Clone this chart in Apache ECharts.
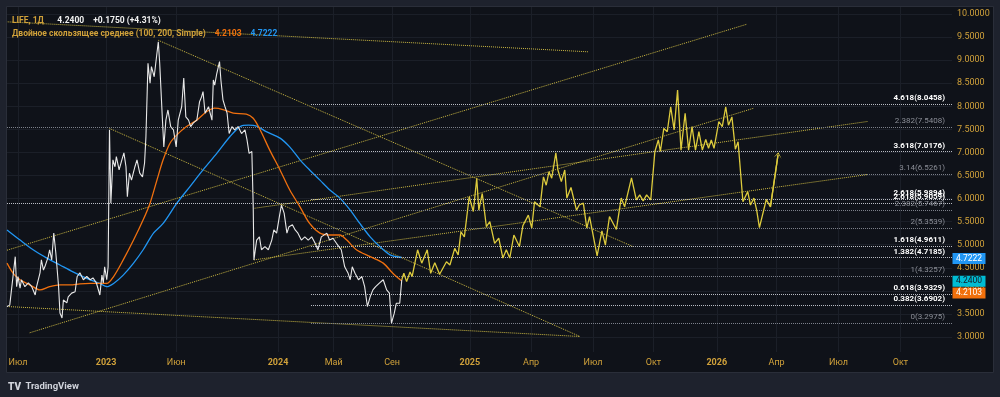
<!DOCTYPE html>
<html><head><meta charset="utf-8">
<script src="https://cdn.jsdelivr.net/npm/echarts@6/dist/echarts.min.js"></script>
<style>html,body{margin:0;padding:0;background:#1e222d;}#c{width:1000px;height:397px;}</style>
</head><body><div id="c"></div>
<script>
// ---------- DATA (x = bar index on the time scale, y = price) ----------
const timeTickBars = [16, 144, 246, 394, 475, 560, 673, 762, 852, 940, 1032, 1119, 1209, 1299];
const timeTickLabels = ['Июл', '2023', 'Июн', '2024', 'Май', 'Сен', '2025', 'Апр', 'Июл', 'Окт', '2026', 'Апр', 'Июл', 'Окт'];
const priceTicks = [3, 3.5, 4, 4.5, 5, 5.5, 6, 6.5, 7, 7.5, 8, 8.5, 9, 9.5, 10];

const price = [[0,3.66],[4,3.69],[12,4.74],[14,4.09],[16,4.31],[19,4.06],[21,4.24],[26,4.09],[31,4.17],[36,4.09],[41,3.91],[43,4.09],[48,4.39],[50,4.67],[53,4.45],[55,4.52],[60,4.74],[62,4.89],[65,4.67],[68,5.25],[71,4.82],[75,4.09],[77,3.52],[80,3.41],[82,3.80],[87,3.74],[89,3.87],[94,3.95],[99,3.98],[102,4.31],[106,4.39],[111,4.24],[116,4.31],[121,4.24],[125,4.28],[130,4.17],[135,3.91],[138,4.34],[140,4.17],[142,4.52],[145,4.24],[147,4.52],[149,7.49],[151,5.90],[154,6.84],[157,6.69],[159,6.91],[163,6.62],[167,6.84],[170,6.99],[173,6.69],[175,6.04],[178,6.55],[181,6.40],[186,6.69],[189,6.84],[193,6.55],[197,6.47],[200,6.77],[202,7.34],[205,8.93],[208,8.50],[210,8.86],[214,8.64],[218,9.15],[220,9.40],[222,8.94],[226,7.70],[228,7.12],[231,7.70],[234,7.92],[238,7.56],[242,7.49],[246,7.12],[249,7.70],[254,7.99],[257,8.61],[260,7.77],[264,7.70],[267,7.56],[271,7.64],[276,7.70],[280,8.10],[283,8.21],[285,8.32],[288,7.85],[293,7.99],[298,7.70],[300,8.57],[302,8.46],[305,8.71],[309,8.97],[311,8.57],[314,8.14],[317,7.99],[320,7.85],[323,7.41],[327,7.56],[331,7.49],[336,7.56],[341,7.41],[346,7.49],[349,7.27],[352,6.98],[356,7.02],[358,5.82],[359,4.67],[363,5.10],[367,5.17],[370,4.89],[375,4.96],[380,4.89],[385,5.10],[388,5.32],[392,5.25],[396,5.61],[399,5.86],[403,5.68],[407,5.25],[410,5.39],[415,5.43],[419,5.32],[423,5.25],[428,5.10],[433,5.17],[438,5.10],[443,5.17],[448,5.03],[452,4.89],[457,5.17],[465,5.25],[469,5.10],[474,5.14],[479,5.03],[486,4.89],[491,4.52],[496,4.38],[499,4.24],[502,4.52],[506,4.38],[511,4.24],[516,4.31],[520,4.09],[524,3.66],[528,3.87],[532,4.02],[536,4.09],[541,4.16],[547,4.24],[552,4.02],[556,3.95],[559,3.30],[563,3.51],[566,3.73],[571,3.73],[574,4.24]];

const ma100 = [[0,4.60],[9,4.38],[19,4.24],[33,4.13],[48,4.02],[62,4.09],[77,4.13],[92,4.13],[106,4.15],[121,4.16],[145,4.16],[155,4.31],[169,4.67],[184,5.10],[198,5.54],[208,5.90],[218,6.40],[227,6.84],[237,7.20],[247,7.38],[261,7.56],[276,7.70],[290,7.88],[302,7.96],[314,7.93],[329,7.85],[348,7.83],[358,7.74],[368,7.49],[382,7.05],[397,6.62],[411,6.19],[426,5.82],[440,5.46],[455,5.25],[469,5.21],[484,5.21],[494,5.10],[508,4.89],[528,4.74],[547,4.60],[561,4.38],[574,4.2103]];

const ma200 = [[0,5.32],[19,5.10],[38,4.89],[58,4.71],[77,4.56],[96,4.41],[116,4.27],[135,4.16],[145,4.09],[155,4.16],[169,4.34],[184,4.60],[198,4.89],[213,5.25],[227,5.46],[247,5.90],[266,6.26],[285,6.62],[305,6.98],[324,7.34],[339,7.56],[351,7.59],[363,7.57],[377,7.45],[397,7.31],[411,7.12],[426,6.84],[440,6.62],[455,6.40],[469,6.19],[484,6.01],[499,5.75],[513,5.46],[528,5.17],[542,4.96],[557,4.78],[574,4.7222]];

const forecastPath = [[574,4.24],[577,4.38],[581,4.20],[586,4.41],[589,4.31],[597,4.89],[603,4.60],[611,4.89],[616,4.38],[622,4.61],[629,4.36],[639,4.63],[644,4.56],[651,4.92],[656,4.78],[660,5.28],[665,5.17],[672,6.04],[678,5.72],[683,6.44],[686,5.75],[691,6.11],[697,5.39],[702,5.50],[709,5.03],[715,5.14],[721,4.71],[726,4.89],[731,4.71],[737,5.21],[745,4.96],[750,5.41],[758,5.64],[763,5.36],[767,5.93],[775,5.82],[780,6.47],[784,6.29],[788,6.58],[792,6.44],[798,6.99],[801,6.62],[806,6.37],[811,6.62],[814,6.01],[820,6.24],[828,5.75],[832,5.86],[838,5.90],[843,5.36],[847,5.61],[858,4.76],[865,5.30],[870,4.99],[876,5.61],[886,5.33],[893,6.01],[898,5.82],[908,6.45],[915,5.97],[920,6.08],[925,5.95],[930,6.08],[936,5.97],[942,7.02],[947,7.27],[950,7.02],[955,7.52],[960,7.45],[965,7.99],[970,7.49],[975,8.35],[980,7.05],[986,7.85],[991,7.05],[996,7.56],[1001,7.05],[1006,7.45],[1011,7.05],[1016,7.28],[1020,7.09],[1024,7.27],[1028,7.09],[1035,7.67],[1040,7.56],[1045,7.99],[1049,7.59],[1054,7.77],[1059,7.07],[1063,7.23],[1070,5.93],[1077,6.15],[1081,5.86],[1086,6.01],[1090,5.75],[1094,5.37],[1104,5.98],[1110,5.82],[1121,6.94]];

// trend lines: [startBar, startPrice, endBar, endPrice]
const trendLines = [
  [1, 9.83, 846, 9.18],
  [220, 9.43, 910, 4.96],
  [149, 7.52, 833, 3.01],
  [0, 3.66, 833, 3.01],
  [0, 4.88, 1076, 9.78],
  [33, 3.09, 1086, 7.96],
  [359, 4.67, 1251, 6.52],
  [360, 5.79, 1251, 7.67]
];

const fibValue   = [8.0458, 7.5408, 7.0176, 6.5261, 5.9894, 5.9059, 5.7467, 5.3539, 4.9611, 4.7185, 4.3257, 3.9329, 3.6902, 3.2975];
const fibRatio   = ['4.618', '2.382', '3.618', '3.14', '2.618', '2.618', '2.382', '2', '1.618', '1.382', '1', '0.618', '0.382', '0'];
const fibFromBar = [442, 0, 442, 442, 442, 0, 442, 442, 442, 442, 442, 442, 442, 442];

// ---------- STYLE ----------
const X_MAX = 1374, Y_MIN = 2.674, Y_MAX = 10.152;
const GOLD = '#d0a13a';
const FONT = 'Roboto';
const BRIGHT_RATIOS = ['4.618', '3.618', '2.618', '1.618', '1.382', '0.618', '0.382'];
const GRID_C = '#1b1f28';

const chart = echarts.init(document.getElementById('c'));

const series = [];
trendLines.forEach(t => series.push({
  type: 'line', data: [[t[0], t[1]], [t[2], t[3]]], symbol: 'none', silent: true, z: 2,
  lineStyle: { color: '#cbb842', width: 1, type: 'dotted' }
}));

series.push({
  type: 'line', data: [], silent: true, z: 3,
  markLine: {
    symbol: 'none', silent: true, animation: false,
    data: fibValue.map((v, i) => {
      const bright = BRIGHT_RATIOS.includes(fibRatio[i]);
      return [{
        coord: [fibFromBar[i], v],
        lineStyle: { color: bright ? '#b9bcc4' : '#7d818b', width: 1, type: 'dotted' },
        label: {
          show: true, position: 'insideEndTop', distance: [7, 2],
          formatter: fibRatio[i] + '(' + v.toFixed(4) + ')',
          color: bright ? '#ffffff' : '#8b8e97', fontSize: 8, fontFamily: FONT,
          fontWeight: bright ? 'bold' : 'normal'
        }
      }, { coord: [X_MAX, v] }];
    })
  }
});

function tag(v, bg, fg, dy) {
  return {
    data: [{ coord: [X_MAX, v] }], symbol: 'rect', symbolSize: [33, 11], symbolOffset: [17, dy],
    silent: true, animation: false, itemStyle: { color: bg },
    label: { show: true, position: 'inside', formatter: v.toFixed(4), color: fg, fontSize: 8.5, fontFamily: FONT }
  };
}

series.push({
  type: 'line', data: ma200, symbol: 'none', smooth: 0.3, clip: false, z: 4,
  lineStyle: { color: '#2196f3', width: 1.3 },
  markPoint: tag(ma200[ma200.length - 1][1], '#2196f3', '#ffffff', 1)
});
series.push({
  type: 'line', data: ma100, symbol: 'none', smooth: 0.3, clip: false, z: 5,
  lineStyle: { color: '#f0700f', width: 1.3 },
  markPoint: tag(ma100[ma100.length - 1][1], '#f2700c', '#ffffff', 12)
});
series.push({
  type: 'line', data: price, symbol: 'none', clip: false, z: 6,
  lineStyle: { color: '#e8e8e8', width: 1.1 },
  markPoint: tag(price[price.length - 1][1], '#00bcd4', '#131722', 1.5)
});
const n = forecastPath.length;
series.push({
  type: 'line', data: forecastPath, symbol: 'none', z: 6,
  lineStyle: { color: '#ddcb3d', width: 1.3 },
  markLine: {
    silent: true, animation: false, symbol: ['none', 'path://M0,10 L5,0 L10,10 L5,3 Z'], symbolSize: [8, 6],
    lineStyle: { color: '#ddcb3d', width: 1.3, type: 'solid' }, label: { show: false },
    data: [[{ coord: forecastPath[n - 2] }, { coord: forecastPath[n - 1] }]]
  }
});

chart.setOption({
  animation: false,
  backgroundColor: '#1e222d',
  textStyle: { fontFamily: FONT },
  graphic: [{
    type: 'rect', z: -10, silent: true,
    shape: { x: 6.5, y: 6.5, width: 987, height: 366 },
    style: { fill: '#0f1219', stroke: '#2a2e39', lineWidth: 1 }
  }],
  title: [
    { left: 12, top: 12, padding: 0,
      text: '{a|LIFE, 1Д}   {w|4.2400}  {w|+0.1750 (+4.31%)}',
      textStyle: { rich: {
        a: { color: GOLD, fontSize: 8.5, fontFamily: FONT },
        w: { color: '#f2f2f2', fontSize: 8.5, fontFamily: FONT }
      } } },
    { left: 12, top: 25, padding: 0,
      text: '{a|Двойное скользящее среднее (100, 200, Simple)}  {o|4.2103}  {b|4.7222}',
      textStyle: { rich: {
        a: { color: GOLD, fontSize: 8.5, fontFamily: FONT },
        o: { color: '#f2700c', fontSize: 8.5, fontFamily: FONT },
        b: { color: '#2196f3', fontSize: 8.5, fontFamily: FONT }
      } } },
    { left: 8, top: 378, padding: 0,
      text: '{l|TV} {t|TradingView}',
      textStyle: { rich: {
        l: { color: '#d1d4dc', fontSize: 10, fontWeight: 900, fontFamily: FONT },
        t: { color: '#d1d4dc', fontSize: 9.5, fontFamily: FONT }
      } } }
  ],
  grid: { left: 7, right: 48, top: 7, bottom: 45 },
  xAxis: {
    type: 'value', min: 0, max: X_MAX,
    axisLine: { show: false },
    axisTick: { show: false, customValues: timeTickBars },
    axisLabel: {
      customValues: timeTickBars, color: GOLD, fontSize: 9, margin: 6, fontFamily: FONT,
      formatter: v => {
        let best = 0;
        timeTickBars.forEach((b, i) => { if (Math.abs(b - v) < Math.abs(timeTickBars[best] - v)) best = i; });
        const s = timeTickLabels[best];
        return /^\d{4}$/.test(s) ? '{y|' + s + '}' : s;
      },
      rich: { y: { color: GOLD, fontSize: 9, fontWeight: 'bold', fontFamily: FONT } }
    },
    splitLine: { show: true, lineStyle: { color: GRID_C, width: 1 } }
  },
  yAxis: {
    type: 'value', position: 'right', min: Y_MIN, max: Y_MAX,
    axisLine: { show: false },
    axisTick: { show: false, customValues: priceTicks },
    axisLabel: { customValues: priceTicks, formatter: v => v.toFixed(4), color: GOLD, fontSize: 9, margin: 5, fontFamily: FONT },
    splitLine: { show: true, lineStyle: { color: GRID_C, width: 1 } }
  },
  series: series
});
</script>
</body></html>
